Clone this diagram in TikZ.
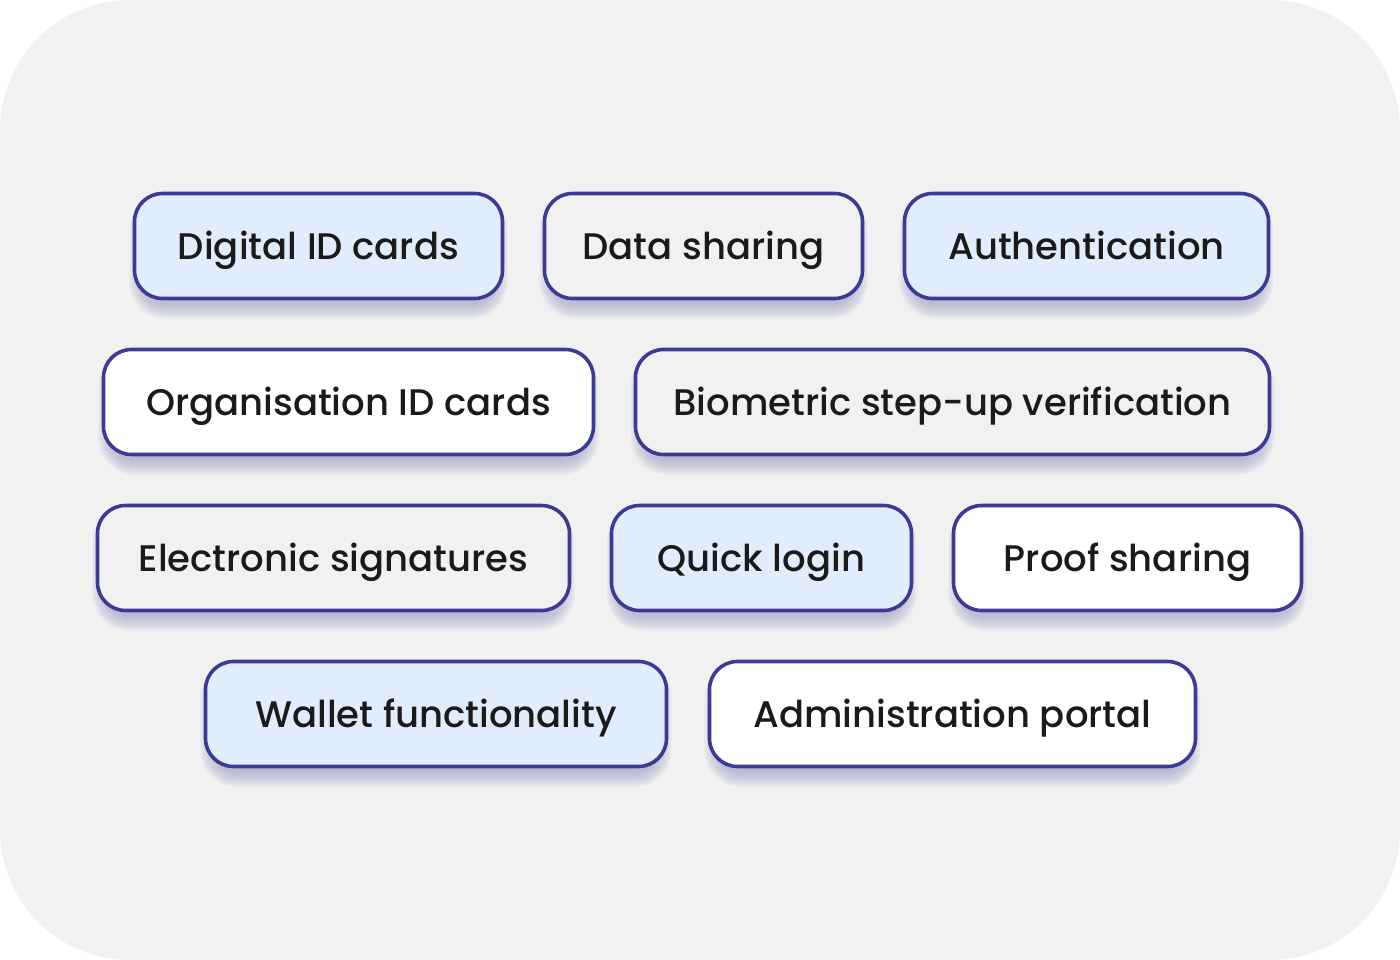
\documentclass[tikz,border=0pt]{standalone}
\usepackage{fontspec}
\setmainfont{Poppins}[UprightFont=* Medium]
\usetikzlibrary{calc,backgrounds}
\definecolor{bg}{HTML}{F1F1F1}
\definecolor{edge}{HTML}{3D3A96}
\definecolor{lblue}{HTML}{E1ECFC}
\definecolor{ink}{HTML}{1A1A1A}
\definecolor{shade}{HTML}{A4A8C9}
\tikzset{
  pill/.style={draw=edge, line width=3.6pt, rounded corners=28pt, minimum height=105pt,
    text=ink, font=\fontsize{37}{44}\selectfont, inner sep=0pt,
    text height=27pt, text depth=0pt},
  pblue/.style={pill, fill=lblue},
  pgrey/.style={pill, fill=bg},
  pwhite/.style={pill, fill=white},
  shadowlayer/.style={fill=shade, opacity=0.13},
}
\begin{document}
\begin{tikzpicture}[x=1pt,y=-1pt]
\useasboundingbox (0,0) rectangle (1400,960);
% row 1
\node[pblue, minimum width=368pt] (dig) at (318.5,246) {Digital ID cards};
\node[pgrey, minimum width=318pt] (dat) at (703.5,246) {Data sharing};
\node[pblue, minimum width=364pt] (aut) at (1086.5,246) {Authentication};
% row 2
\node[pwhite, minimum width=490pt] (org) at (348.5,402) {Organisation ID cards};
\node[pgrey, minimum width=634pt] (bio) at (952.5,402) {Biometric step-up verification};
% row 3
\node[pgrey, minimum width=472pt] (ele) at (333.5,558) {Electronic signatures};
\node[pblue, minimum width=300pt] (qui) at (761.5,558) {Quick login};
\node[pwhite, minimum width=348pt] (pro) at (1127.5,558) {Proof sharing};
% row 4
\node[pblue, minimum width=461pt] (wal) at (436,714) {Wallet functionality};
\node[pwhite, minimum width=486pt] (adm) at (952.5,714) {Administration portal};
\begin{scope}[on background layer]
\fill[white] (0,0) rectangle (1400,960);
\fill[bg, rounded corners=130pt] (0,0) rectangle (1400,960);
\foreach \n in {dig,dat,aut,org,bio,ele,qui,pro,wal,adm}{
  \foreach \d in {-6,-4,...,8}{
    \pgfmathsetmacro{\h}{\d-5}
    \pgfmathsetmacro{\r}{max(4,28+\d)}
    \fill[shadowlayer, rounded corners=\r pt]
      ($(\n.north west)+(-\h,10-\d)$) rectangle ($(\n.south east)+(\h,10+\d)$);
  }
}
\end{scope}
\end{tikzpicture}
\end{document}
